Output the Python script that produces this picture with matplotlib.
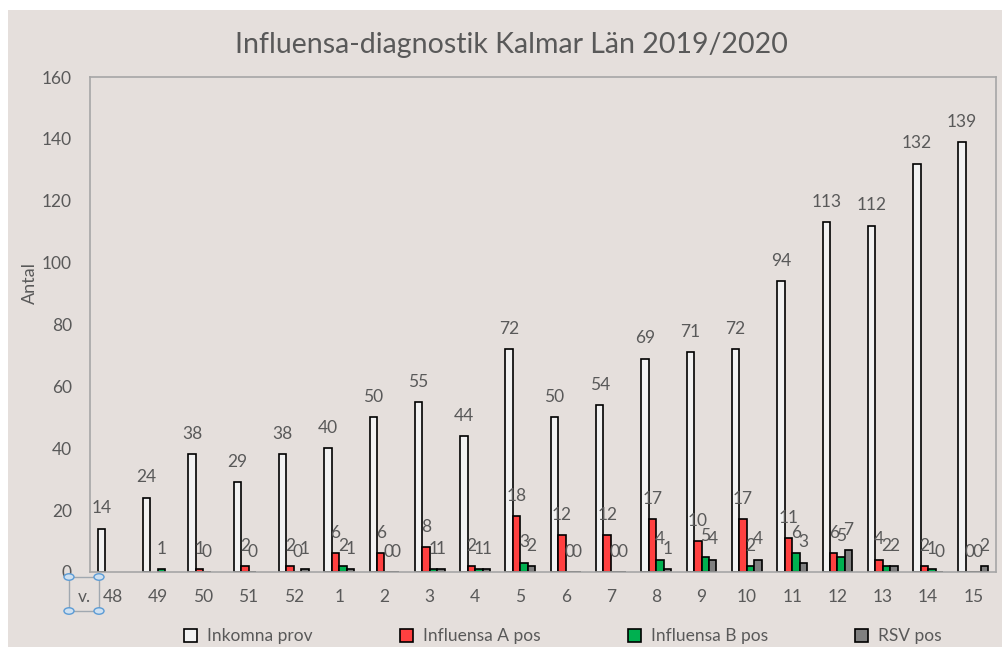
import numpy as np
import matplotlib.pyplot as plt
from matplotlib.patches import Rectangle, Circle

nan = np.nan
weeks = ['48', '49', '50', '51', '52', '1', '2', '3', '4', '5', '6', '7', '8', '9', '10',
         '11', '12', '13', '14', '15']
inkomna = [14, 24, 38, 29, 38, 40, 50, 55, 44, 72, 50, 54, 69, 71, 72, 94, 113, 112, 132, 139]
infl_a = [nan, nan, 1, 2, 2, 6, 6, 8, 2, 18, 12, 12, 17, 10, 17, 11, 6, 4, 2, 0]
infl_b = [nan, 1, 0, 0, 0, 2, 0, 1, 1, 3, 0, 0, 4, 5, 2, 6, 5, 2, 1, 0]
rsv = [nan, nan, nan, nan, 1, 1, 0, 1, 1, 2, 0, 0, 1, 4, 4, 3, 7, 2, 0, 2]

series = [('Inkomna prov', inkomna, '#f2f2f2'),
          ('Influensa A pos', infl_a, '#ff4040'),
          ('Influensa B pos', infl_b, '#00b050'),
          ('RSV pos', rsv, '#808080')]

bg = '#e5dfdc'
txt = '#595959'
plt.rcParams['font.family'] = ['Lato', 'DejaVu Sans']

fig = plt.figure(figsize=(10.02, 6.47), dpi=100, facecolor=bg)
ax = fig.add_axes([90 / 1002, 75 / 647, 906 / 1002, 495 / 647])
ax.set_facecolor(bg)

x = np.arange(len(weeks))
w = 0.165
for i, (name, vals, col) in enumerate(series):
    pos = x + (i - 1.5) * w
    ax.bar(pos, vals, width=w, color=col, edgecolor='black', linewidth=1.2, label=name)
    for px, v in zip(pos, vals):
        if np.isnan(v):
            continue
        ax.annotate('%d' % v, (px, v), xytext=(0, 11), textcoords='offset points',
                    ha='center', va='baseline', fontsize=12.5, color=txt)

ax.set_xlim(-0.5, len(weeks) - 0.5)
ax.set_ylim(0, 160)
ax.set_yticks(range(0, 161, 20))
ax.set_xticks(x)
ax.set_xticklabels(weeks)
ax.tick_params(length=0, labelsize=12.5, colors=txt, pad=12)
ax.tick_params(axis='y', pad=13)
for s in ax.spines.values():
    s.set_color('#a6a6a6')
    s.set_linewidth(1.2)
ax.set_ylabel('Antal', fontsize=13, color=txt)
ax.yaxis.set_label_coords(-0.057, 0.584)

fig.text(0.51, 1 - 45 / 647, 'Influensa-diagnostik Kalmar Län 2019/2020', ha='center',
         va='center', fontsize=20.5, color=txt)

ax.legend(loc='center', bbox_to_anchor=(0.522, -0.13), ncol=4, frameon=False, fontsize=12.5,
          handlelength=0.75, handleheight=0.75, handletextpad=0.6, columnspacing=5.0,
          labelcolor=txt)

# text box selection artifact at the lower left
fig.text(84 / 1002, 1 - 597 / 647, 'v.', ha='center', va='center', fontsize=12.5, color=txt)
box = Rectangle((69 / 1002, 1 - 611 / 647), 30 / 1002, 34 / 647, transform=fig.transFigure,
                fill=False, edgecolor='#a0a8b0', linewidth=1)
fig.patches.append(box)
for cx, cy in [(69, 577), (99, 577), (69, 611), (99, 611)]:
    fig.patches.append(Circle((cx / 1002, 1 - cy / 647), 0.005, transform=fig.transFigure,
                              facecolor='#cfe0f0', edgecolor='#5b9bd5', linewidth=1))

fig.patches.append(Rectangle((0, 1 - 10 / 647), 1, 10 / 647, transform=fig.transFigure,
                             facecolor='white', edgecolor='none'))
fig.patches.append(Rectangle((0, 0), 8 / 1002, 1, transform=fig.transFigure,
                             facecolor='white', edgecolor='none'))

fig.savefig('out.png', dpi=100, facecolor=bg)
